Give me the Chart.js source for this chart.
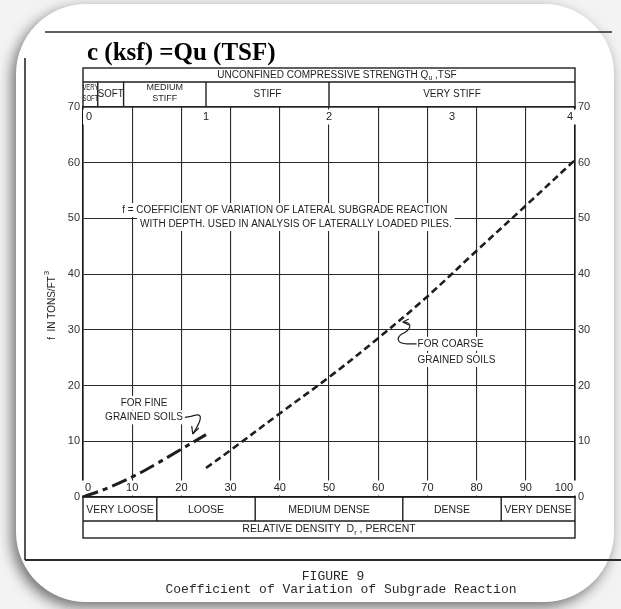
<!DOCTYPE html>
<html>
<head>
<meta charset="utf-8">
<script src="https://cdn.jsdelivr.net/npm/chart.js@4.4.1/dist/chart.umd.min.js"></script>
<style>
  html, body { margin: 0; padding: 0; background: #f3f3f3; }
  #wrap { position: relative; width: 621px; height: 609px; }
</style>
</head>
<body>
<div id="wrap"><canvas id="subgradeChart"></canvas></div>
<script>
// f (tons/ft3) against relative density Dr (%)
const densityFine = [0, 5, 10, 15, 20, 25];
const fFine = [0, 1.6, 3.6, 6.0, 8.6, 11.2];
const densityCoarse = [25, 30, 40, 50, 60, 70, 80, 90, 100];
const fCoarse = [5.2, 8.4, 15.0, 21.5, 28.5, 36.0, 44.2, 52.3, 60.5];

// bottom scale: relative density
const densityTicks = [0, 10, 20, 30, 40, 50, 60, 70, 80, 90, 100];
const densityClasses = ['VERY LOOSE', 'LOOSE', 'MEDIUM DENSE', 'DENSE', 'VERY DENSE'];
const densityBounds = [0, 15, 35, 65, 85, 100];

// top scale: unconfined compressive strength Qu (tsf)
const strengthTicks = [0, 1, 2, 3, 4];
const consistencyClasses = [['VERY', 'SOFT'], ['SOFT'], ['MEDIUM', 'STIFF'], ['STIFF'], ['VERY STIFF']];
const consistencyBounds = [0, 0.12, 0.33, 1, 2, 4];

const INK = '#1e1e1e';
const SANS = '"Liberation Sans", Arial, sans-serif';

function setFont(ctx, size, family, weight) {
  ctx.font = `${weight || 'normal'} ${size}px ${family || SANS}`;
}

// white box behind a label so the grid lines stop around it, like the drawing
function knockText(ctx, str, x, y, align, size, maxW) {
  setFont(ctx, size);
  let w = ctx.measureText(str).width;
  if (maxW && w > maxW) w = maxW;
  let left = x;
  if (align === 'center') left = x - w / 2;
  if (align === 'right') left = x - w;
  ctx.fillStyle = '#fff';
  ctx.fillRect(left - 3, y - size / 2 - 2, w + 6, size + 4);
  ctx.fillStyle = INK;
  ctx.textAlign = align;
  ctx.textBaseline = 'middle';
  if (maxW) ctx.fillText(str, x, y, maxW);
  else ctx.fillText(str, x, y);
  return { left, right: left + w };
}

function drawRich(ctx, parts, cx, cy, size) {
  const widths = parts.map((p) => {
    setFont(ctx, p.sub ? size - 3 : size);
    return ctx.measureText(p.t).width;
  });
  let x = cx - widths.reduce((a, b) => a + b, 0) / 2;
  ctx.textAlign = 'left';
  ctx.textBaseline = 'middle';
  ctx.fillStyle = INK;
  parts.forEach((p, i) => {
    setFont(ctx, p.sub ? size - 3 : size);
    ctx.fillText(p.t, x, p.sub ? cy + 3 : cy);
    x += widths[i];
  });
}

function line(ctx, x1, y1, x2, y2) {
  ctx.beginPath();
  ctx.moveTo(x1, y1);
  ctx.lineTo(x2, y2);
  ctx.stroke();
}

const pagePlugin = {
  id: 'page',
  beforeDraw(chart) {
    const ctx = chart.ctx;
    ctx.save();
    ctx.fillStyle = '#f3f3f3';
    ctx.fillRect(0, 0, chart.width, chart.height);
    // the rounded white sheet with its drop shadow
    ctx.shadowColor = 'rgba(0,0,0,0.55)';
    ctx.shadowBlur = 14;
    ctx.shadowOffsetX = -4;
    ctx.shadowOffsetY = 5;
    ctx.fillStyle = '#fff';
    ctx.beginPath();
    ctx.roundRect(16, 4, 598, 598, 70);
    ctx.fill();
    ctx.restore();

    // rules of the scanned page
    ctx.save();
    ctx.strokeStyle = '#2a2a2a';
    ctx.lineWidth = 1.6;
    line(ctx, 45, 32, 612, 32);
    line(ctx, 25, 58, 25, 560);
    ctx.lineWidth = 2;
    line(ctx, 25, 560, 621, 560);
    ctx.restore();
  },
  beforeDatasetsDraw(chart) {
    const ctx = chart.ctx;
    const xs = chart.scales.x;
    const ys = chart.scales.y;
    const top = chart.scales.xTop;
    const ca = chart.chartArea;
    ctx.save();

    // tick labels written inside the frame
    densityTicks.forEach((v, i) => {
      const px = xs.getPixelForValue(v);
      const align = i === 0 ? 'left' : i === densityTicks.length - 1 ? 'right' : 'center';
      const off = i === 0 ? 2 : i === densityTicks.length - 1 ? -2 : 0;
      knockText(ctx, String(v), px + off, ca.bottom - 9, align, 11);
    });
    strengthTicks.forEach((v, i) => {
      const px = top.getPixelForValue(v);
      const align = i === 0 ? 'left' : i === strengthTicks.length - 1 ? 'right' : 'center';
      const off = i === 0 ? 3 : i === strengthTicks.length - 1 ? -2 : 0;
      knockText(ctx, String(v), px + off, ca.top + 10, align, 11);
    });

    // notes
    knockText(ctx, 'f = COEFFICIENT OF VARIATION OF LATERAL SUBGRADE REACTION',
      xs.getPixelForValue(8), ys.getPixelForValue(51.5), 'left', 10, 325);
    knockText(ctx, 'WITH DEPTH. USED IN ANALYSIS OF LATERALLY LOADED PILES.',
      xs.getPixelForValue(11.6), ys.getPixelForValue(49), 'left', 10, 312);

    knockText(ctx, 'FOR FINE', xs.getPixelForValue(12.4), ys.getPixelForValue(16.9), 'center', 10);
    const fine = knockText(ctx, 'GRAINED SOILS', xs.getPixelForValue(12.4), ys.getPixelForValue(14.3), 'center', 10);

    const coarse = knockText(ctx, 'FOR COARSE', xs.getPixelForValue(68), ys.getPixelForValue(27.5), 'left', 10);
    knockText(ctx, 'GRAINED SOILS', xs.getPixelForValue(68), ys.getPixelForValue(24.6), 'left', 10);

    chart.$leaders = { fine, coarse };
    ctx.restore();
  },
  afterDraw(chart) {
    const ctx = chart.ctx;
    const xs = chart.scales.x;
    const ys = chart.scales.y;
    const top = chart.scales.xTop;
    const ca = chart.chartArea;
    const L = ca.left;
    const R = ca.right;
    ctx.save();
    ctx.strokeStyle = INK;
    ctx.fillStyle = INK;

    // leader for fine grained soils
    ctx.lineWidth = 1.2;
    const fy = ys.getPixelForValue(14.3);
    const fx = chart.$leaders.fine.right + 2;
    const tipF = { x: xs.getPixelForValue(22.3), y: ys.getPixelForValue(11.3) };
    ctx.beginPath();
    ctx.moveTo(fx, fy);
    ctx.lineTo(fx + 6, fy - 1);
    ctx.quadraticCurveTo(fx + 24, fy - 8, tipF.x, tipF.y);
    ctx.stroke();
    line(ctx, tipF.x, tipF.y, tipF.x - 1, tipF.y - 8);
    line(ctx, tipF.x, tipF.y, tipF.x + 6, tipF.y - 6);

    // leader for coarse grained soils
    const cy = ys.getPixelForValue(27.5);
    const cx = chart.$leaders.coarse.left - 1;
    const tipC = { x: xs.getPixelForValue(65), y: ys.getPixelForValue(31.4) };
    ctx.beginPath();
    ctx.moveTo(tipC.x, tipC.y);
    ctx.bezierCurveTo(tipC.x + 11, tipC.y, tipC.x + 8, tipC.y + 8, tipC.x - 1, tipC.y + 12);
    ctx.bezierCurveTo(tipC.x - 8, tipC.y + 17, tipC.x - 4, cy, tipC.x + 4, cy);
    ctx.lineTo(cx, cy);
    ctx.stroke();
    line(ctx, tipC.x, tipC.y, tipC.x + 6, tipC.y - 3);
    line(ctx, tipC.x, tipC.y, tipC.x + 6, tipC.y + 3);

    // title
    setFont(ctx, 25, '"Liberation Serif", "Times New Roman", serif', 'bold');
    ctx.textAlign = 'left';
    ctx.textBaseline = 'alphabetic';
    ctx.fillStyle = '#000';
    ctx.fillText('c (ksf) =Qu (TSF)', 87, 60, 192);

    // header boxes above the frame
    ctx.strokeStyle = INK;
    ctx.lineWidth = 1.4;
    const hTop = ca.top - 39;
    const hMid = ca.top - 25;
    ctx.strokeRect(L, hTop, R - L, ca.top - hTop);
    line(ctx, L, hMid, R, hMid);
    drawRich(ctx, [{ t: 'UNCONFINED COMPRESSIVE STRENGTH Q' }, { t: 'u', sub: true }, { t: ' ,TSF' }], (L + R) / 2 + 8, hTop + 7, 10);
    consistencyClasses.forEach((names, i) => {
      const a = top.getPixelForValue(consistencyBounds[i]);
      const b = top.getPixelForValue(consistencyBounds[i + 1]);
      if (i > 0) line(ctx, a, hMid, a, ca.top);
      const stacked = names.length > 1;
      const size = stacked ? 9 : 10;
      names.forEach((n, k) => {
        const yy = stacked ? hMid + 6 + k * 11 : (hMid + ca.top) / 2;
        setFont(ctx, size);
        ctx.fillStyle = INK;
        ctx.textAlign = 'center';
        ctx.textBaseline = 'middle';
        ctx.fillText(n, (a + b) / 2, yy, Math.max(b - a, 16));
      });
    });

    // density boxes below the frame
    const bMid = ca.bottom + 24;
    const bBot = ca.bottom + 41;
    ctx.strokeRect(L, ca.bottom, R - L, bBot - ca.bottom);
    line(ctx, L, bMid, R, bMid);
    densityClasses.forEach((n, i) => {
      const a = xs.getPixelForValue(densityBounds[i]);
      const b = xs.getPixelForValue(densityBounds[i + 1]);
      if (i > 0) line(ctx, a, ca.bottom, a, bMid);
      setFont(ctx, 10.5);
      ctx.fillStyle = INK;
      ctx.textAlign = 'center';
      ctx.textBaseline = 'middle';
      ctx.fillText(n, (a + b) / 2, (ca.bottom + bMid) / 2 + 1, b - a - 4);
    });
    drawRich(ctx, [{ t: 'RELATIVE DENSITY  D' }, { t: 'r', sub: true }, { t: ' , PERCENT' }], (L + R) / 2, (bMid + bBot) / 2, 10.5);

    // y axis title
    ctx.save();
    ctx.translate(52, (ca.top + ca.bottom) / 2 + 3);
    ctx.rotate(-Math.PI / 2);
    ctx.fillStyle = INK;
    ctx.textBaseline = 'middle';
    setFont(ctx, 10);
    const yTitle = 'f  IN TONS/FT';
    const tw = ctx.measureText(yTitle).width;
    ctx.textAlign = 'left';
    ctx.fillText(yTitle, -tw / 2 - 3, 0);
    setFont(ctx, 8);
    ctx.fillText('3', tw / 2 - 2, -5);
    ctx.restore();

    // caption
    setFont(ctx, 13, '"Liberation Mono", "Courier New", monospace');
    ctx.fillStyle = '#2a2a2a';
    ctx.textAlign = 'center';
    ctx.textBaseline = 'middle';
    ctx.fillText('FIGURE 9', 333, 577);
    ctx.fillText('Coefficient of Variation of Subgrade Reaction', 341, 590);
    ctx.restore();
  },
};

const gridStyle = { color: '#2a2a2a', lineWidth: 1.1, drawTicks: false };
const borderStyle = { display: true, color: '#111', width: 1.6 };
const tickFont = { family: 'Liberation Sans', size: 11 };

new Chart(document.getElementById('subgradeChart'), {
  type: 'line',
  data: {
    datasets: [
      {
        label: 'For fine grained soils',
        data: densityFine.map((d, i) => ({ x: d, y: fFine[i] })),
        borderColor: INK,
        borderWidth: 3,
        borderDash: [16, 5, 5, 5],
        tension: 0.35,
        pointRadius: 0,
        fill: false,
      },
      {
        label: 'For coarse grained soils',
        data: densityCoarse.map((d, i) => ({ x: d, y: fCoarse[i] })),
        borderColor: INK,
        borderWidth: 2.6,
        borderDash: [7, 4],
        tension: 0.35,
        pointRadius: 0,
        fill: false,
      },
    ],
  },
  options: {
    responsive: true,
    maintainAspectRatio: false,
    animation: false,
    layout: { padding: { left: 53, right: 16, top: 107, bottom: 112 } },
    plugins: { legend: { display: false }, tooltip: { enabled: false } },
    scales: {
      x: {
        type: 'linear',
        position: 'bottom',
        min: 0,
        max: 100,
        ticks: { stepSize: 10, display: false },
        grid: gridStyle,
        border: borderStyle,
        afterFit: (s) => { s.height = 0; },
      },
      xTop: {
        type: 'linear',
        position: 'top',
        min: 0,
        max: 4,
        display: false,
      },
      y: {
        position: 'left',
        min: 0,
        max: 70,
        ticks: { stepSize: 10, color: '#333', font: tickFont, padding: 3 },
        grid: gridStyle,
        border: borderStyle,
        afterFit: (s) => { s.width = 30; },
      },
      y2: {
        position: 'right',
        min: 0,
        max: 70,
        ticks: { stepSize: 10, color: '#333', font: tickFont, padding: 3 },
        grid: { display: false, drawTicks: false },
        border: borderStyle,
        afterFit: (s) => { s.width = 30; },
      },
    },
  },
  plugins: [pagePlugin],
});
</script>
</body>
</html>
